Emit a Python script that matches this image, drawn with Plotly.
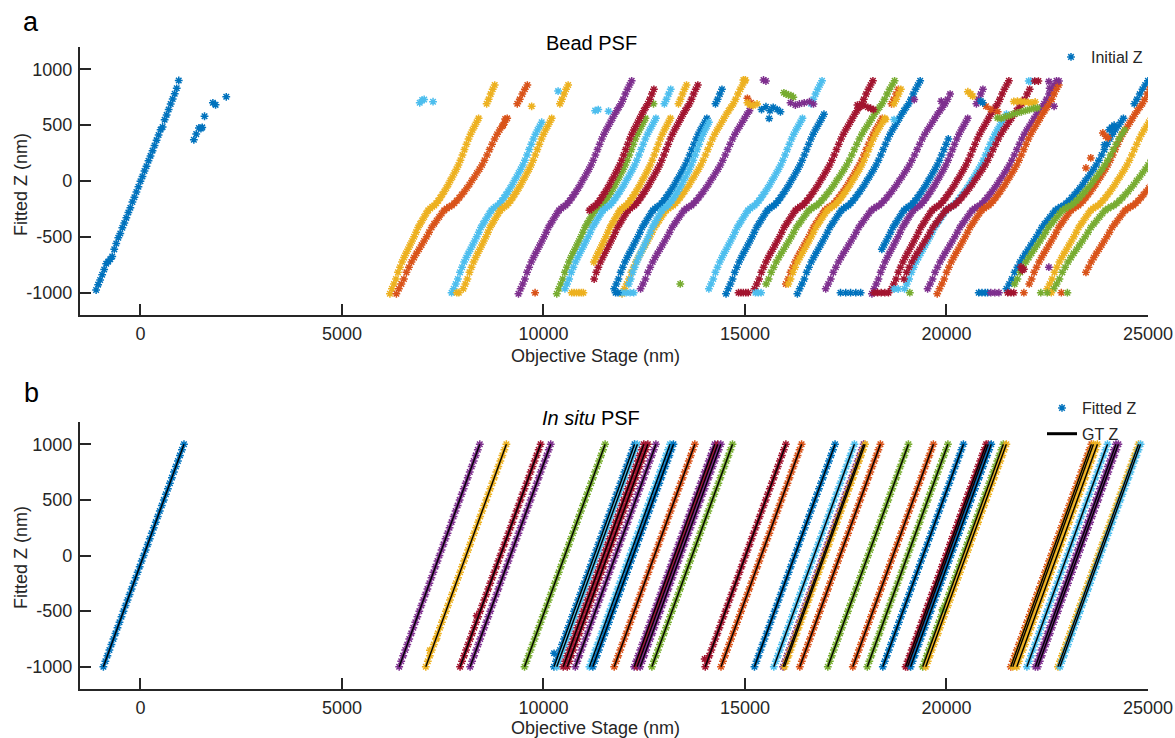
import plotly.graph_objects as go

BLUE = "#0072BD"
ORANGE = "#D95319"
YELLOW = "#EDB120"
PURPLE = "#7E2F8E"
GREEN = "#77AC30"
LBLUE = "#4DBEEE"
DRED = "#A2142F"

# ---------------- panel a: bead PSF ----------------
# first bead: stage position and fitted z
FIRST_STAGE = [-1100, -1050, -1000, -950, -900, -850, -800, -750, -700, -650, -600, -550,
               -500, -450, -400, -350, -300, -250, -200, -150, -100, -50, 0, 50, 100, 150,
               200, 250, 300, 350, 400, 450, 500, 550, 600, 650, 700, 750, 800, 850, 900, 950]
FIRST_Z = [-976, -928, -886, -840, -792, -741, -722, -700, -676, -612, -560, -508, -470,
           -418, -376, -330, -282, -240, -188, -146, -98, -52, -2, 40, 90, 132, 182, 225,
           272, 318, 366, 412, 460, 484, 548, 592, 640, 690, 735, 782, 830, 900]
FIRST_EXTRA_X = [1325, 1384, 1450, 1500, 1533, 1590, 1797, 1864, 2129]
FIRST_EXTRA_Z = [369, 420, 475, 470, 480, 580, 700, 682, 754]

# typical bead response: stage offset from first frame (nm) and fitted z (nm)
PROFILE_DX = [0, 50, 100, 150, 200, 250, 300, 350, 400, 450, 500, 550, 600, 650, 700, 750,
              800, 850, 900, 950, 1000, 1050, 1100, 1150, 1200, 1250, 1300, 1350, 1400, 1450,
              1500, 1550, 1600, 1650, 1700, 1750, 1800, 1850, 1900, 1950, 2000, 2050, 2100,
              2150, 2200, 2250, 2300, 2350, 2400, 2450, 2500, 2550, 2600, 2650]
PROFILE_Z = [-1010, -965, -922, -878, -818, -772, -726, -686, -648, -611, -574, -538, -499,
             -458, -416, -384, -354, -322, -291, -263, -246, -231, -219, -199, -176, -149,
             -121, -94, -63, -31, 4, 36, 71, 106, 144, 186, 233, 281, 329, 376, 419, 456,
             491, 526, 561, 598, 630, 661, 692, 731, 778, 821, 859, 897]

# remaining beads: start stage, stage stretch, visible z window, missing fits near top
BEAD_COLOR = [YELLOW, ORANGE, LBLUE, YELLOW, PURPLE, GREEN, DRED, LBLUE, DRED, YELLOW,
              BLUE, YELLOW, PURPLE, LBLUE, LBLUE, BLUE, DRED, GREEN, ORANGE, YELLOW,
              BLUE, PURPLE, PURPLE, DRED, LBLUE, DRED, PURPLE, ORANGE, BLUE, ORANGE,
              GREEN, YELLOW, GREEN, ORANGE, BLUE]
BEAD_START = [6190, 6350, 7720, 7960, 9380, 10330, 10190, 10480, 11100, 10950,
              11700, 11950, 12350, 12020, 14050, 14530, 15180, 15400, 15900, 15960,
              16300, 16940, 18150, 18580, 18900, 18750, 19470, 19770, 21420, 21930,
              21550, 22440, 22590, 23200, 17900]
BEAD_STRETCH = [1.0, 1.25, 1.04, 1.02, 1.06, 1.0, 1.0, 1.05, 1.05, 1.0,
                1.07, 1.15, 1.2, 0.97, 1.08, 1.08, 1.13, 1.25, 1.14, 1.14,
                1.15, 1.26, 1.08, 1.12, 1.15, 1.3, 1.23, 1.16, 1.35, 1.22,
                1.4, 1.2, 1.42, 1.3, 1.1]
BEAD_ZLO = [-1000, -1000, -970, -960, -1000, -1000, -250, -950, -900, -750,
            -960, -1000, -960, -920, -970, -990, -970, -940, -930, -930,
            -990, -970, -1000, -970, -950, -890, -950, -1000, -950, -910,
            -940, -950, -950, -800, -600]
BEAD_ZHI = [860, 860, 560, 860, 900, 720, 830, 830, 860, 860,
            830, 900, 650, 530, 900, 600, 900, 900, 830, 830,
            900, 800, 830, 900, 600, 850, 900, 860, 900, 830,
            470, 880, 250, 350, 400]
BEAD_GAP = [True, True, False, True, False, True, False, True, False, True,
            True, False, False, False, True, False, False, False, True, True,
            False, False, True, False, False, False, False, False, True, False,
            False, False, False, False, False]

# isolated fits (clamped at range limits or off-track)
STRAY_X = [6930, 6990, 7040, 7260, 9000, 9050, 9707, 9792, 10363, 11282, 11360, 11614,
           7720, 7850, 7900, 10700, 10760, 10820, 10880, 10940, 10990,
           11790, 11850, 11950, 12050, 12150, 12240, 13394,
           14840, 14900, 14960, 15020, 15080, 15260, 15330, 15400,
           14960, 15010, 15060, 15130, 15200, 15300, 15060, 15150,
           15410, 15520, 15620, 15700, 15800, 15880, 15600,
           15966, 16020, 16080, 16140, 16200,
           15460, 15520, 16130, 16250, 16350, 16470, 16600, 16700,
           17790, 17870, 17950, 18050, 18120, 18190, 18490, 18700,
           17370, 17500, 17620, 17750, 17870, 18200, 18290, 18380, 18470, 18560,
           18700, 18800, 19090, 19200, 19870, 20530, 20600, 20650, 20850, 20900,
           20980, 21100, 21270, 20800, 20880, 20960, 21020, 21100, 21200, 21300,
           21670, 21760, 21850, 21940, 22030, 22120, 22200,
           21265, 21360, 21460, 21560, 21660, 21760, 21860, 21960, 22060, 22160, 22257,
           22040, 22090, 22190, 22280, 22540, 22790, 22560, 22670,
           23460, 23580, 23880, 23950, 24010, 24040, 24100, 24160, 23920,
           21850, 21880, 21920, 22540, 21520, 21600, 21670,
           22340, 22500, 22600, 22850, 23000, 21920]
STRAY_Z = [700, 725, 730, 710, 500, 555, 669, -1000, 805, 630, 640, 625,
           -1000, -1000, -1000, -1000, -1000, -1000, -1000, -1000, -1000,
           -1000, -1000, -1000, -1000, -1000, -1000, -922,
           -1000, -1000, -1000, -1000, -1000, -1000, -1000, -1000,
           905, 905, 700, 680, 675, 690, 740, 700,
           640, 665, 630, 660, 640, 620, 560,
           790, 780, 770, 765, 750,
           905, 895, 700, 680, 690, 700, 710, 690,
           680, 670, 680, 660, 650, 640, 550, 550,
           -1000, -1000, -1000, -1000, -1000, -1000, -1000, -1000, -1000, -1000,
           -967, -967, -1000, 730, 715, 800, 780, 760, 715, 700,
           670, 640, 620, -1000, -1000, -1000, -1000, -1000, -1000, -1000,
           712, 714, 712, 708, 705, 700, 708,
           565, 560, 575, 585, 600, 610, 620, 630, 640, 650, 655,
           895, 895, 895, 895, 890, 895, 830, 669,
           117, 207, 430, 400, 387, 460, 480, 500, 324,
           -770, -800, -790, -772, -1000, -1000, -1000,
           -1000, -1000, -1000, -1000, -1000, -1000]
STRAY_C = [LBLUE, LBLUE, LBLUE, LBLUE, ORANGE, ORANGE, YELLOW, ORANGE, LBLUE, LBLUE, LBLUE, LBLUE,
           LBLUE, YELLOW, YELLOW, YELLOW, YELLOW, YELLOW, YELLOW, YELLOW, YELLOW,
           BLUE, BLUE, LBLUE, LBLUE, LBLUE, LBLUE, GREEN,
           DRED, DRED, DRED, DRED, DRED, LBLUE, LBLUE, LBLUE,
           YELLOW, YELLOW, YELLOW, YELLOW, YELLOW, YELLOW, ORANGE, ORANGE,
           BLUE, BLUE, BLUE, BLUE, BLUE, BLUE, BLUE,
           GREEN, GREEN, GREEN, GREEN, GREEN,
           PURPLE, PURPLE, PURPLE, PURPLE, PURPLE, PURPLE, PURPLE, PURPLE,
           DRED, DRED, DRED, DRED, DRED, DRED, YELLOW, LBLUE,
           BLUE, BLUE, BLUE, BLUE, BLUE, DRED, DRED, DRED, DRED, DRED,
           LBLUE, LBLUE, GREEN, PURPLE, PURPLE, YELLOW, YELLOW, YELLOW, BLUE, BLUE,
           ORANGE, ORANGE, ORANGE, BLUE, BLUE, BLUE, BLUE, PURPLE, PURPLE, PURPLE,
           YELLOW, YELLOW, YELLOW, YELLOW, YELLOW, YELLOW, YELLOW,
           GREEN, GREEN, GREEN, GREEN, GREEN, GREEN, GREEN, GREEN, GREEN, GREEN, GREEN,
           LBLUE, LBLUE, DRED, DRED, PURPLE, PURPLE, PURPLE, PURPLE,
           ORANGE, ORANGE, ORANGE, ORANGE, ORANGE, BLUE, BLUE, BLUE, BLUE,
           DRED, DRED, DRED, PURPLE, DRED, DRED, DRED,
           GREEN, GREEN, YELLOW, ORANGE, GREEN, ORANGE]

# ---------------- panel b: in situ PSF ----------------
# stage steps within each scan; ground-truth z is step - 1000
SCAN_STEP = [0, 50, 100, 150, 200, 250, 300, 350, 400, 450, 500, 550, 600, 650, 700, 750,
             800, 850, 900, 950, 1000, 1050, 1100, 1150, 1200, 1250, 1300, 1350, 1400, 1450,
             1500, 1550, 1600, 1650, 1700, 1750, 1800, 1850, 1900, 1950, 2000]
INSITU_START = [-920, 6420, 7080, 7930, 8180, 9530, 10260, 10330, 10490, 10590, 10790,
                11140, 11225, 11755, 12250, 12325, 12400, 12690, 14015, 14405, 15235,
                15715, 15945, 15980, 16360, 17055, 17675, 18035, 18420, 18985, 19035,
                19110, 19410, 19485, 21595, 21645, 21745, 21995, 22205, 22265, 22765, 22815]
INSITU_COLOR = [BLUE, PURPLE, YELLOW, DRED, PURPLE, GREEN, BLUE, LBLUE, DRED, DRED, PURPLE,
                LBLUE, BLUE, ORANGE, PURPLE, DRED, PURPLE, GREEN, DRED, ORANGE, BLUE,
                LBLUE, PURPLE, YELLOW, ORANGE, GREEN, ORANGE, GREEN, BLUE, DRED, DRED,
                BLUE, GREEN, YELLOW, ORANGE, YELLOW, YELLOW, LBLUE, PURPLE, PURPLE, YELLOW, LBLUE]
INSITU_OFF_X = [7182, 7346, 8342, 10263, 14000, 19897]
INSITU_OFF_Z = [-852, -745, -541, -879, -930, -487]
INSITU_OFF_C = [YELLOW, YELLOW, DRED, BLUE, DRED, GREEN]

FONT = "Liberation Sans, Arial, Helvetica, sans-serif"
INK = "#262626"
W, H = 1175, 738
L, R, T, B = 80, 27, 47, 49


def px_x(px):
    return (px - L) / (W - L - R)


def px_y(py):
    return (H - B - py) / (H - T - B)


def star(color):
    return dict(symbol="asterisk-open", size=6.5, color=color, line=dict(width=1.5, color=color))


fig = go.Figure()

# panel a traces
fig.add_trace(go.Scatter(x=FIRST_STAGE, y=FIRST_Z, mode="markers", marker=star(BLUE),
                         name="Initial Z", legend="legend", showlegend=True,
                         xaxis="x", yaxis="y"))
fig.add_trace(go.Scatter(x=FIRST_EXTRA_X, y=FIRST_EXTRA_Z, mode="markers", marker=star(BLUE),
                         showlegend=False, xaxis="x", yaxis="y"))
for c, x0, s, lo, hi, gap in zip(BEAD_COLOR, BEAD_START, BEAD_STRETCH, BEAD_ZLO, BEAD_ZHI, BEAD_GAP):
    xs, zs = [], []
    for dx, z in zip(PROFILE_DX, PROFILE_Z):
        if z < lo - 20 or z > hi:
            continue
        if gap and 565 < z < 685:
            continue
        xs.append(x0 + s * dx)
        zs.append(z)
    fig.add_trace(go.Scatter(x=xs, y=zs, mode="markers", marker=star(c),
                             showlegend=False, xaxis="x", yaxis="y"))
for c in dict.fromkeys(STRAY_C):
    sx = [x for x, cc in zip(STRAY_X, STRAY_C) if cc == c]
    sz = [z for z, cc in zip(STRAY_Z, STRAY_C) if cc == c]
    fig.add_trace(go.Scatter(x=sx, y=sz, mode="markers", marker=star(c),
                             showlegend=False, xaxis="x", yaxis="y"))

# panel b traces: fitted points, then ground-truth lines on top
for i, (x0, c) in enumerate(zip(INSITU_START, INSITU_COLOR)):
    fig.add_trace(go.Scatter(x=[x0 + st for st in SCAN_STEP], y=[st - 1000 for st in SCAN_STEP],
                             mode="markers", marker=star(c), name="Fitted Z",
                             legend="legend2", legendgroup="fit", showlegend=(i == 0),
                             xaxis="x2", yaxis="y2"))
fig.add_trace(go.Scatter(x=INSITU_OFF_X, y=INSITU_OFF_Z, mode="markers",
                         marker=dict(symbol="asterisk-open", size=6.5, color=INSITU_OFF_C,
                                     line=dict(width=1.5, color=INSITU_OFF_C)),
                         showlegend=False, xaxis="x2", yaxis="y2"))
gx, gz = [], []
for x0 in INSITU_START:
    gx += [x0 + SCAN_STEP[0], x0 + SCAN_STEP[-1], None]
    gz += [SCAN_STEP[0] - 1000, SCAN_STEP[-1] - 1000, None]
fig.add_trace(go.Scatter(x=gx, y=gz, mode="lines", line=dict(color="black", width=1.4),
                         showlegend=False, xaxis="x2", yaxis="y2"))
fig.add_trace(go.Scatter(x=[None], y=[None], mode="lines", line=dict(color="black", width=3),
                         name="GT Z", legend="legend2", legendgroup="gt", showlegend=True,
                         xaxis="x2", yaxis="y2"))

XT = [0, 5000, 10000, 15000, 20000, 25000]
YT = [-1000, -500, 0, 500, 1000]
TICKFONT = dict(family=FONT, size=18, color=INK)
axis_common = dict(showline=True, linecolor=INK, linewidth=2.2, ticks="inside", ticklen=11,
                   tickwidth=2, tickcolor=INK, showgrid=False, zeroline=False, mirror=False,
                   tickfont=TICKFONT, automargin=False, ticklabeloverflow="allow")
xaxis_common = dict(range=[-1500, 25000], tickvals=XT, ticktext=[str(v) for v in XT],
                    ticklabelstandoff=1, **axis_common)
yaxis_common = dict(range=[-1200, 1200], tickvals=YT, ticktext=[str(v) for v in YT],
                    ticklabelstandoff=2, **axis_common)


def label(text, px, py, size, angle=0, color="black"):
    return dict(text=text, x=px_x(px), y=px_y(py), xref="paper", yref="paper",
                showarrow=False, xanchor="center", yanchor="middle", textangle=angle,
                borderpad=0, font=dict(family=FONT, size=size, color=color))


fig.update_layout(
    width=W, height=H,
    margin=dict(l=L, r=R, t=T, b=B, autoexpand=False),
    paper_bgcolor="white", plot_bgcolor="white",
    font=dict(family=FONT, color=INK),
    xaxis=dict(domain=[0, 1], anchor="y", **xaxis_common),
    yaxis=dict(domain=[px_y(315), 1], anchor="x", **yaxis_common),
    xaxis2=dict(domain=[0, 1], anchor="y2", **xaxis_common),
    yaxis2=dict(domain=[0, px_y(422)], anchor="x2", **yaxis_common),
    legend=dict(x=px_x(1051), y=px_y(40), xanchor="left", yanchor="top", bgcolor="rgba(0,0,0,0)",
                font=dict(family=FONT, size=16, color=INK)),
    legend2=dict(x=px_x(1042), y=px_y(391), xanchor="left", yanchor="top", bgcolor="rgba(0,0,0,0)",
                 tracegroupgap=2, font=dict(family=FONT, size=16, color=INK)),
    annotations=[
        label("Bead PSF", 591, 43, 20),
        label("<i>In situ</i> PSF", 591, 418, 20),
        label("a", 31, 22, 27),
        label("b", 31, 393, 27),
        label("Objective Stage (nm)", 595, 356, 18, color=INK),
        label("Objective Stage (nm)", 595, 728, 18, color=INK),
        label("Fitted Z (nm)", 21, 185, 18, angle=-90, color=INK),
        label("Fitted Z (nm)", 21, 558, 18, angle=-90, color=INK),
    ],
)

fig.write_html("out.html")
